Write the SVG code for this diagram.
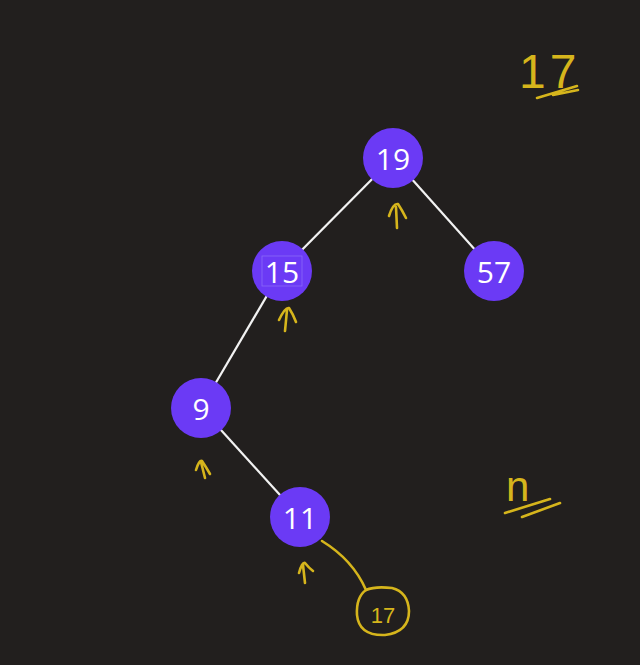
<svg xmlns="http://www.w3.org/2000/svg" width="640" height="665" viewBox="0 0 640 665">
<style>
.node{fill:#6b3af5}
.lbl{fill:#ffffff;font-family:"Open Sans","Noto Sans",sans-serif;font-size:30px;text-anchor:middle;dominant-baseline:central}
.edge{stroke:#f2f2f2;stroke-width:2.2;fill:none}
.ink{stroke:#d6b51c;stroke-width:2.6;fill:none;stroke-linecap:round;stroke-linejoin:round}
.hand{fill:#d6b51c;font-family:"Liberation Sans",sans-serif;font-weight:normal}
</style>
<rect width="640" height="665" fill="#221f1e"/>
<g id="connectors">
  <line class="edge" x1="393" y1="158" x2="282" y2="270"/>
  <line class="edge" x1="393" y1="158" x2="494" y2="271"/>
  <line class="edge" x1="282" y1="270" x2="201" y2="408"/>
  <line class="edge" x1="201" y1="408" x2="300" y2="517"/>
</g>
<g id="node-19"><circle class="node" cx="393" cy="158" r="30"/><text class="lbl" x="393" y="158">19</text></g>
<g id="node-15"><circle class="node" cx="282" cy="271" r="30"/><rect x="262" y="256" width="40" height="30" fill="none" stroke="#8a6af7" stroke-width="0.8"/><text class="lbl" x="282" y="271">15</text></g>
<g id="node-57"><circle class="node" cx="494" cy="271" r="30"/><text class="lbl" x="494" y="271">57</text></g>
<g id="node-9"><circle class="node" cx="201" cy="408" r="30"/><text class="lbl" x="201" y="408">9</text></g>
<g id="node-11"><circle class="node" cx="300" cy="517" r="30"/><text class="lbl" x="300" y="517">11</text></g>
<g id="annotations">
  <path class="ink" d="M397 228 L396 207 M389 216 Q393 203 398 204 Q402 210 406 218"/>
  <path class="ink" d="M285 331 L287 310 M279 320 Q285 307 289 308 Q293 314 296 322"/>
  <path class="ink" d="M205 478 L201 462 M196 470 Q199 460 202 461 Q206 467 210 474"/>
  <path class="ink" d="M305 583 L303 565 M299 573 Q302 562 305 563 Q309 568 313 571"/>
  <text class="hand" x="519" y="88" font-size="48" letter-spacing="4">17</text>
  <path class="ink" d="M537 98 L577 86 M553 95 L578 90"/>
  <text class="hand" x="506" y="501" font-size="42">n</text>
  <path class="ink" d="M505 513 L550 499 M522 517 L560 503"/>
  <path class="ink" d="M322 541 Q353 560 366 590"/>
  <path class="ink" d="M366 590 Q356 597 357 615 Q359 636 385 635 Q409 632 409 611 Q408 592 392 588 Q375 586 366 590"/>
  <text class="hand" x="383" y="623" font-size="22" text-anchor="middle">17</text>
</g>
</svg>
